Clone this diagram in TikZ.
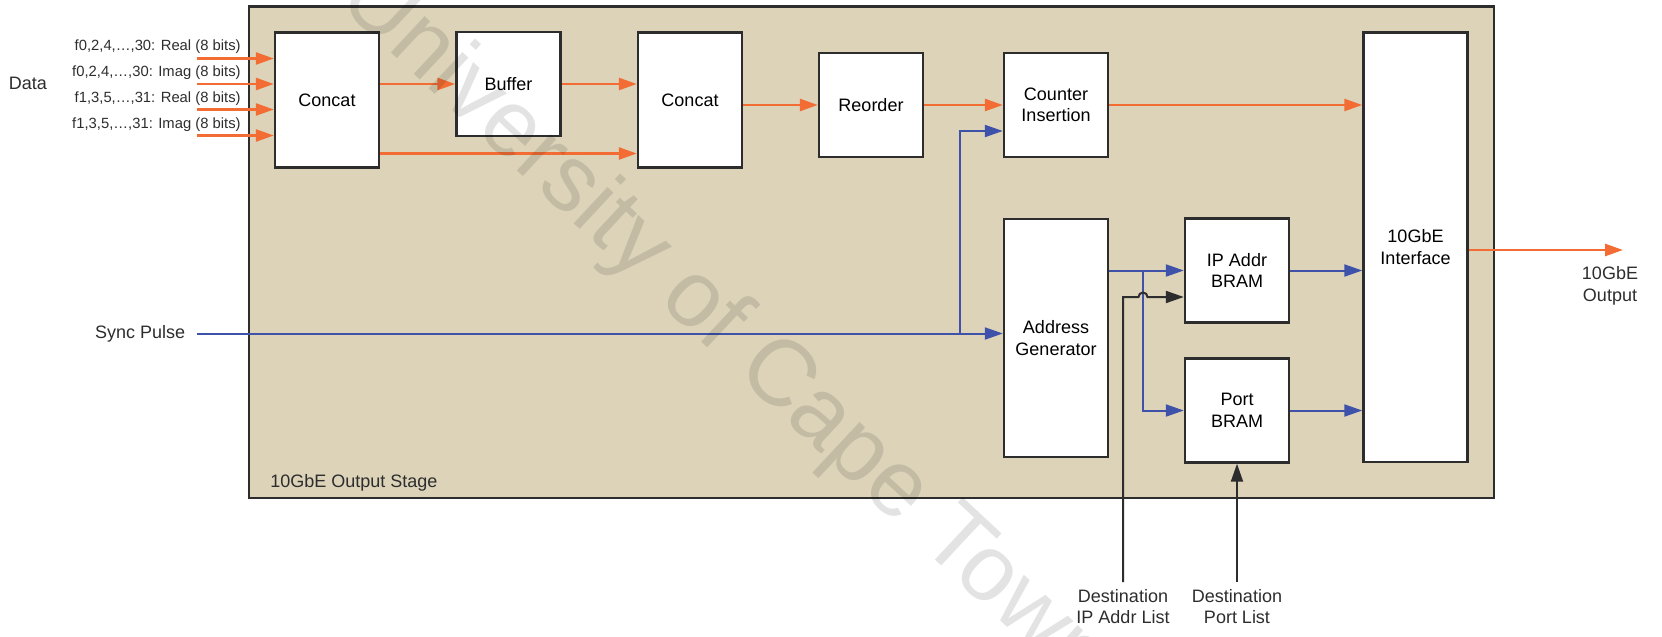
\documentclass[tikz,border=0pt]{standalone}
\usepackage{fontspec}
\setmainfont{Liberation Sans}
\usetikzlibrary{arrows.meta,calc}
\definecolor{beige}{RGB}{220,211,185}
\definecolor{orng}{RGB}{242,108,52}
\definecolor{blu}{RGB}{62,82,170}
\definecolor{edge}{RGB}{45,45,45}
\begin{document}
\begin{tikzpicture}[x=0.5pt,y=-0.5pt,
  blk/.style={draw=edge,line width=1.2pt,fill=white,minimum width=52pt,minimum height=52pt,align=center,font=\fontsize{9}{10.8}\selectfont,inner sep=0pt},
  oar/.style={draw=orng,line width=1.3pt,-{Triangle[length=9pt,width=6pt]}},
  bar/.style={draw=blu,line width=1pt,-{Triangle[length=9pt,width=6pt]}},
  kar/.style={draw=edge,line width=1pt,-{Triangle[length=9pt,width=6pt]}},
  lbl/.style={font=\fontsize{9}{10.8}\selectfont,align=center,inner sep=0pt,text=edge},
  sml/.style={font=\fontsize{7.4}{8.9}\selectfont,inner sep=0pt,anchor=east,text=edge}
]
\useasboundingbox (0,0) rectangle (1662,637);
% stage
\node (stage) [draw=edge,line width=1.2pt,fill=beige,minimum width=622.5pt,minimum height=245.75pt,inner sep=0pt] at (871.5,252.25) {};
\node[lbl,anchor=west] (stagelbl) at (270,482.5) {10GbE Output Stage};
% blocks
\node[blk,minimum height=67.5pt] (c1) at (327,100) {Concat};
\node[blk] (buf) at (508.5,84) {Buffer};
\node[blk,minimum height=67.5pt] (c2) at (690,100) {Concat};
\node[blk] (reo) at (871,105) {Reorder};
\node[blk] (ctr) at (1056,105) {Counter\\Insertion};
\node[blk,minimum height=214.75pt] (intf) at (1415.5,247.25) {10GbE\\Interface};
\node[blk,minimum height=119pt] (ag) at (1056,338) {Address\\Generator};
\node[blk] (ip) at (1237,270.5) {IP Addr\\BRAM};
\node[blk] (port) at (1237,410.5) {Port\\BRAM};
% outer labels
\node[lbl] (data) at (28,83.5) {Data};
\node[sml] (l1) at (241,47) {f0,2,4,\dots,30: Real (8 bits)};
\node[sml] (l2) at (241,73) {f0,2,4,\dots,30: Imag (8 bits)};
\node[sml] (l3) at (241,99) {f1,3,5,\dots,31: Real (8 bits)};
\node[sml] (l4) at (241,125) {f1,3,5,\dots,31: Imag (8 bits)};
\node[lbl,anchor=east] (synclbl) at (185.5,333.5) {Sync Pulse};
\node[lbl] (outlbl) at (1610,286) {10GbE\\Output};
\node[lbl] (diplbl) at (1123,606.5) {Destination\\IP Addr List};
\node[lbl] (dportlbl) at (1237,606.5) {Destination\\Port List};
% free ends
\coordinate (in1) at (197,58.5);
\coordinate (in2) at (197,84);
\coordinate (in3) at (197,109.5);
\coordinate (in4) at (197,135.5);
\coordinate (sync) at (197,333.5);
\coordinate (br1) at (960,333.5);
\coordinate (br2) at (1143,270.5);
\coordinate (hop) at (1143,297);
\coordinate (dip) at (1123,582);
\coordinate (dport) at (1237,582);
\coordinate (outc) at (1623,250);
% orange data path
\foreach \i in {in1,in2,in3,in4} \draw[oar] (\i) -- (\i -| c1.west);
\draw[oar] (c1.east |- buf.west) -- (buf.west);
\draw[oar] (buf.east) -- (buf.east -| c2.west);
\draw[oar] ($(c1.east)+(0,53.5)$) -- ($(c2.west)+(0,53.5)$);
\draw[oar] (c2.east |- reo.west) -- (reo.west);
\draw[oar] (reo.east) -- (ctr.west);
\draw[oar] (ctr.east) -- (ctr.east -| intf.west);
\draw[oar] (intf.east |- outc) -- (outc);
% blue control path
\draw[bar] (sync) -- (sync -| ag.west);
\draw[bar] (br1) |- ($(ctr.west)+(0,26)$);
\draw[bar] (ag.east |- ip.west) -- (ip.west);
\draw[bar] (br2) |- (port.west);
\draw[bar] (ip.east) -- (ip.east -| intf.west);
\draw[bar] (port.east) -- (port.east -| intf.west);
% black inputs
\draw[kar] (dip) |- ($(hop)+(-4.5,0)$) arc[start angle=180,end angle=0,radius=2.25pt] -- (hop -| ip.west);
\draw[kar] (dport) -- (port.south);
% watermark
\begin{scope}
\clip (0,0) rectangle (1662,637);
\node[rotate=-43,text=black,text opacity=0.11,font=\fontsize{47}{47}\selectfont,inner sep=0pt] (wm) at (724,330) {University of Cape Town};
\end{scope}
\end{tikzpicture}
\end{document}
